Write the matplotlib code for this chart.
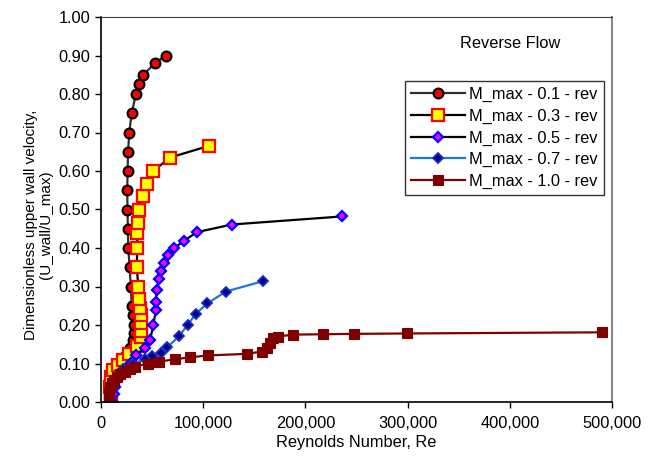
import matplotlib
matplotlib.use('Agg')
import matplotlib.pyplot as plt
from matplotlib.ticker import FuncFormatter, MultipleLocator

plt.rcParams['font.family'] = ['Liberation Sans', 'DejaVu Sans']

# M_max = 0.1
re_01 = [8000, 8500, 9500, 11000, 14000, 18000, 23000, 28000, 31000, 32000,
         32500, 31500, 30000, 29200, 28000, 26700, 26300, 25900, 25700, 26000,
         26500, 27700, 30000, 34200, 37500, 41400, 52800, 63300]
u_01 = [0.0, 0.02, 0.04, 0.06, 0.08, 0.10, 0.12, 0.14, 0.16, 0.18,
        0.20, 0.225, 0.25, 0.30, 0.35, 0.40, 0.45, 0.50, 0.55, 0.60,
        0.65, 0.70, 0.75, 0.80, 0.825, 0.85, 0.88, 0.90]

# M_max = 0.3
re_03 = [10000, 9500, 9000, 9500, 12000, 17000, 22000, 27000, 35000, 39000,
         39300, 39500, 39300, 38500, 37500, 36500, 35000, 35500, 35600, 36500,
         37200, 40800, 45300, 51200, 67500, 105400]
u_03 = [0.0, 0.015, 0.04, 0.065, 0.083, 0.096, 0.11, 0.125, 0.145, 0.17,
        0.185, 0.205, 0.225, 0.245, 0.267, 0.30, 0.35, 0.40, 0.44, 0.465,
        0.50, 0.535, 0.567, 0.60, 0.635, 0.665]

# M_max = 0.5
re_05 = [12000, 12500, 14000, 17000, 21000, 25000, 30000, 34200, 43100, 48000,
         51200, 53800, 53800, 54500, 56400, 59000, 61900, 65900, 71700, 81500,
         93600, 127900, 236000]
u_05 = [0.0, 0.02, 0.04, 0.06, 0.075, 0.09, 0.105, 0.122, 0.141, 0.161,
        0.20, 0.24, 0.26, 0.291, 0.32, 0.341, 0.362, 0.382, 0.40, 0.419,
        0.441, 0.461, 0.482]

# M_max = 0.7
re_07 = [11400, 12000, 15300, 21800, 31600, 43000, 49600, 58400, 64900, 76300,
         84800, 92700, 104000, 122300, 158800]
u_07 = [0.0, 0.036, 0.066, 0.087, 0.10, 0.111, 0.119, 0.128, 0.142, 0.171,
        0.20, 0.229, 0.256, 0.287, 0.314]

# M_max = 1.0
re_10 = [8000, 7500, 7500, 8100, 9000, 10500, 13000, 15300, 19000, 23500,
         28000, 33300, 46300, 57000, 72400, 87100, 105000, 142600, 157200, 162100,
         165400, 168000, 173500, 187600, 217500, 247900, 299700, 490500]
u_10 = [0.0, 0.01, 0.02, 0.027, 0.038, 0.049, 0.058, 0.066, 0.073, 0.079,
        0.086, 0.092, 0.10, 0.105, 0.111, 0.116, 0.121, 0.125, 0.131, 0.139,
        0.152, 0.165, 0.17, 0.175, 0.176, 0.177, 0.178, 0.181]

labels = ['M_max - 0.1 - rev', 'M_max - 0.3 - rev', 'M_max - 0.5 - rev',
          'M_max - 0.7 - rev', 'M_max - 1.0 - rev']

fs = 11.8

fig = plt.figure(figsize=(6.57, 4.63), dpi=100)
ax = fig.add_axes([101 / 657, 61 / 463, 511 / 657, 385 / 463])

ax.plot(re_01, u_01, color='#303030', lw=1.6, marker='o', ms=7,
        mfc='red', mec='black', mew=1.6, label=labels[0])
ax.plot(re_03, u_03, color='black', lw=1.6, marker='s', ms=8,
        mfc='yellow', mec='red', mew=1.6, label=labels[1])
ax.plot(re_05, u_05, color='black', lw=1.6, marker='D', ms=5.5,
        mfc='#ff00ff', mec='blue', mew=1.6, label=labels[2])
ax.plot(re_07, u_07, color='#1a7ad4', lw=1.6, marker='D', ms=5.5,
        mfc='#000080', mec='#1a2ad0', mew=1.3, label=labels[3])
ax.plot(re_10, u_10, color='#800000', lw=1.6, marker='s', ms=7,
        mfc='#800000', mec='#800000', mew=0.8, label=labels[4])

ax.set_xlim(0, 500000)
ax.set_ylim(0, 1.0)
ax.xaxis.set_major_locator(MultipleLocator(100000))
ax.yaxis.set_major_locator(MultipleLocator(0.1))
ax.xaxis.set_major_formatter(FuncFormatter(lambda v, p: f'{int(v):,}'))
ax.yaxis.set_major_formatter(FuncFormatter(lambda v, p: f'{v:.2f}'))
ax.tick_params(direction='out', length=4, width=1, labelsize=fs, color='black')
ax.tick_params(axis='x', pad=6)

for side in ['left', 'bottom']:
    ax.spines[side].set_color('black')
    ax.spines[side].set_linewidth(1.2)
ax.spines['top'].set_color('#404040')
ax.spines['right'].set_color('#888888')
ax.spines['right'].set_linewidth(1.5)

ax.set_xlabel('Reynolds Number, Re', fontsize=fs, labelpad=3)
ax.set_ylabel('Dimensionless upper wall velocity,\n(U_wall/U_max)', fontsize=11,
              linespacing=1.05)
ax.yaxis.set_label_coords(-0.094, 0.46)

ax.text(0.80, 0.93, 'Reverse Flow', transform=ax.transAxes, fontsize=fs,
        ha='center', va='center')

leg = ax.legend(loc='upper left', bbox_to_anchor=(0.595, 0.834), borderaxespad=0,
                fontsize=fs, frameon=True, fancybox=False, handlelength=3.3,
                labelspacing=0.4, borderpad=0.38, handletextpad=0.25)
leg.get_frame().set_edgecolor('black')
leg.get_frame().set_linewidth(1.0)

fig.savefig('out.png', dpi=100)
